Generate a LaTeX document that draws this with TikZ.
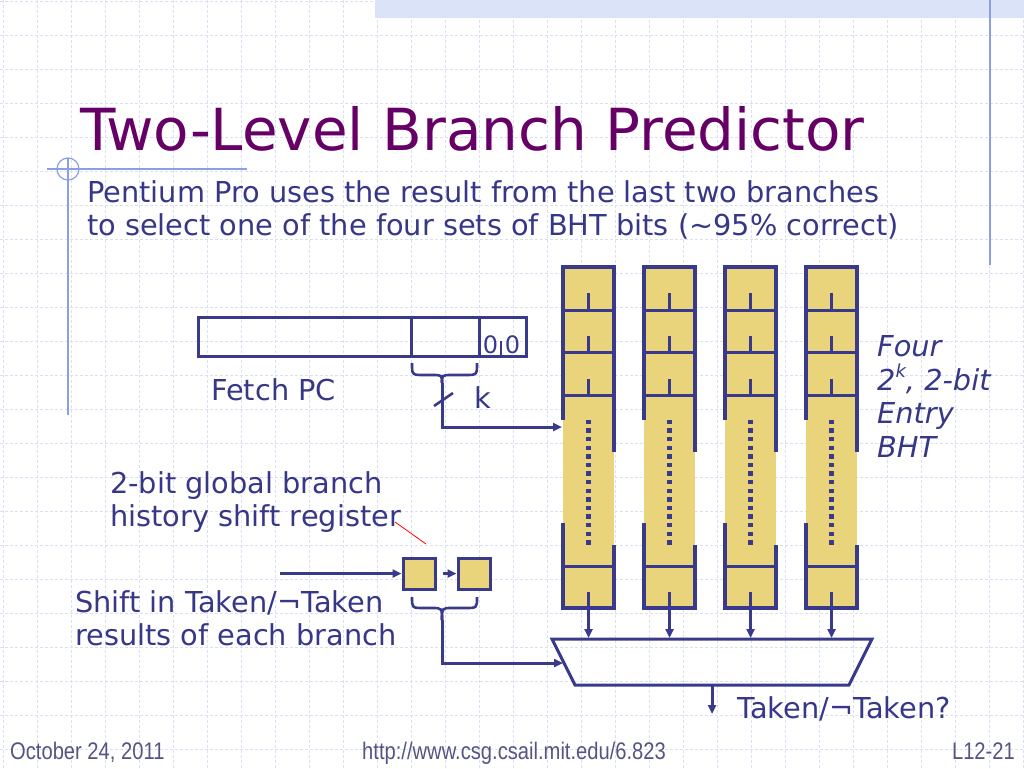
\documentclass[tikz,border=0pt]{standalone}
\usepackage{fontspec}
\setmainfont{DejaVu Sans}
\newfontfamily\footfont[FakeStretch=0.84]{Liberation Sans}
\usetikzlibrary{arrows.meta}
\definecolor{titlepurple}{RGB}{102,0,102}
\definecolor{txtblue}{RGB}{55,55,135}
\definecolor{lineblue}{RGB}{58,58,140}
\definecolor{bhtyellow}{RGB}{233,212,124}
\definecolor{gridblue}{RGB}{218,223,243}
\definecolor{decoblue}{RGB}{140,160,225}
\definecolor{bandblue}{RGB}{218,227,247}
\definecolor{footgray}{RGB}{85,85,130}
\begin{document}
\begin{tikzpicture}[x=1pt,y=-1pt,
  gridline/.style={gridblue,line width=0.8pt,dash pattern=on 3pt off 2pt},
  deco/.style={decoblue,line width=1.2pt},
  wire/.style={lineblue,line width=3pt},
  arr/.style={wire,-{Triangle[length=9pt,width=8pt]}},
  body/.style={txtblue,font=\fontsize{28.8}{34}\selectfont,anchor=base west,inner sep=0pt},
  ibody/.style={body,font=\fontsize{28.8}{34}\selectfont\itshape},
  foot/.style={footgray,font=\footfont\fontsize{24}{24}\selectfont,inner sep=0pt},
  pcfield/.style={draw=lineblue,line width=3pt,inner sep=0pt,minimum height=39pt,anchor=north west},
  regbox/.style={draw=lineblue,line width=3pt,fill=bhtyellow,inner sep=0pt,minimum width=32pt,minimum height=31pt},
  brace/.style={lineblue,line width=2.6pt}
]
\useasboundingbox (0,0) rectangle (1024,768);
\fill[white] (0,0) rectangle (1024,768);
% background grid
\foreach \x in {3,37,...,1024} \draw[gridline] (\x,0) -- (\x,768);
\foreach \y in {1,35,...,768} \draw[gridline] (0,\y) -- (1024,\y);
% top band and decorations
\fill[bandblue] (375,0) rectangle (1024,18);
\draw[deco] (990,0) -- (990,265);
\draw[deco] (68,158) -- (68,415);
\draw[deco] (47,169) -- (247,169);
\draw[deco] (68,169) circle (11);
% title and body
\node[anchor=base west,inner sep=0pt,titlepurple,font=\fontsize{58}{60}\selectfont] (title) at (80,150) {Two-Level Branch Predictor};
\node[body] (l1) at (87,202) {Pentium Pro uses the result from the last two branches};
\node[body] (l2) at (87,235) {to select one of the four sets of BHT bits (\textasciitilde95\% correct)};
% fetch PC register
\node[pcfield,minimum width=213pt] (pc1) at (197,316) {};
\node[pcfield,minimum width=68pt] (pc2) at (410,316) {};
\node[pcfield,minimum width=47pt] (pc3) at (478,316) {};
\node[lineblue,anchor=base,inner sep=0pt,font=\fontsize{24}{24}\selectfont] (z1) at (490.5,353) {0};
\node[lineblue,anchor=base,inner sep=0pt,font=\fontsize{24}{24}\selectfont] (z2) at (512.5,353) {0};
\draw[lineblue,line width=2pt] (501,341) -- (pc3.south -| 501,0);
\node[body] (fetch) at (211,400) {Fetch PC};
% brace under PC index field
\coordinate (b1l) at (412,363);
\coordinate (b1r) at (477,363);
\coordinate (b1t) at (442,383);
\draw[brace] (b1l) .. controls (412,375) .. (424,375) -- (432,375) .. controls (442,375) .. (b1t);
\draw[brace] (b1r) .. controls (477,375) .. (465,375) -- (452,375) .. controls (442,375) .. (b1t);
\coordinate (kc) at (442,427);
\coordinate (bhtin) at (562,427);
\draw[arr] (b1t) -- (kc) -- (bhtin);
\coordinate (sla) at (434,406);
\coordinate (slb) at (453,393);
\draw[lineblue,line width=2.6pt] (sla) -- (slb);
\node[body] (k) at (474,408) {k};
% BHT columns
\foreach \i/\xl in {1/563,2/644,3/725,4/806}{
  \pgfmathsetmacro{\xr}{\xl+51}
  \pgfmathsetmacro{\cx}{\xl+25.5}
  \node[fill=bhtyellow,inner sep=0pt,minimum width=51pt,minimum height=341pt,anchor=north west] (col\i) at (\xl,267) {};
  \draw[wire,line width=3.2pt] (\xl,420) -- (\xl,267) -- (\xr,267) -- (\xr,452);
  \draw[wire,line width=3.2pt] (\xl,523) -- (\xl,608) -- (\xr,608) -- (\xr,545);
  \foreach \yy in {310,352,395,566} \draw[wire] (\xl,\yy) -- (\xr,\yy);
  \draw[wire] (\cx,293) -- (\cx,310);
  \draw[wire] (\cx,336) -- (\cx,352);
  \draw[wire] (\cx,379) -- (\cx,395);
  \foreach \k in {0,...,14} \fill[lineblue] ({\cx-2.2},{422+8.6*\k-2.2}) rectangle ++(4.4,4.4);
  \coordinate (cout\i) at (\cx,592);
  \coordinate (min\i) at (\cx,638);
  \draw[arr] (cout\i) -- (min\i);
}
\node[ibody] (f1) at (877,356) {Four};
\node[ibody] (f2) at (877,390) {2\raisebox{0.42em}{\fontsize{18}{18}\selectfont k}, 2-bit};
\node[ibody] (f3) at (877,423) {Entry};
\node[ibody] (f4) at (877,457) {BHT};
% mux
\coordinate (mtl) at (552,639);
\coordinate (mtr) at (872,639);
\coordinate (mbr) at (849,685);
\coordinate (mbl) at (575,685);
\draw[wire,line join=miter] (mtl) -- (mtr) -- (mbr) -- (mbl) -- cycle;
\coordinate (muxleft) at (563,663);
\coordinate (muxout) at (712,685);
\coordinate (resend) at (712,714);
\draw[arr] (muxout) -- (resend);
\node[body] (res) at (737,718) {Taken/¬Taken?};
% global history shift register
\node[body] (g1) at (110,493) {2-bit global branch};
\node[body] (g2) at (110,526) {history shift register};
\coordinate (ra) at (395,522);
\coordinate (rb) at (426,544);
\draw[red,line width=0.8pt] (ra) -- (rb);
\node[regbox] (sr1) at (419,573.5) {};
\node[regbox] (sr2) at (474,573.5) {};
\coordinate (shin) at (280,573.5);
\draw[arr] (shin) -- (sr1.west);
\draw[arr] ([xshift=6pt]sr1.east) -- (sr2.west);
\node[body] (s1) at (75,612) {Shift in Taken/¬Taken};
\node[body] (s2) at (75,645) {results of each branch};
\coordinate (b2l) at (412,597);
\coordinate (b2r) at (477,597);
\coordinate (b2t) at (442,620);
\draw[brace] (b2l) .. controls (412,608) .. (424,608) -- (432,608) .. controls (442,608) .. (b2t);
\draw[brace] (b2r) .. controls (477,608) .. (465,608) -- (452,608) .. controls (442,608) .. (b2t);
\coordinate (hc) at (442,663);
\draw[arr] (b2t) -- (hc) -- (muxleft);
% footer
\node[foot,anchor=base west] (date) at (10,759) {October 24, 2011};
\node[foot,anchor=base west] (url) at (362,759) {http://www.csg.csail.mit.edu/6.823};
\node[foot,anchor=base east] (num) at (1015,759) {L12-21};
\end{tikzpicture}
\end{document}
